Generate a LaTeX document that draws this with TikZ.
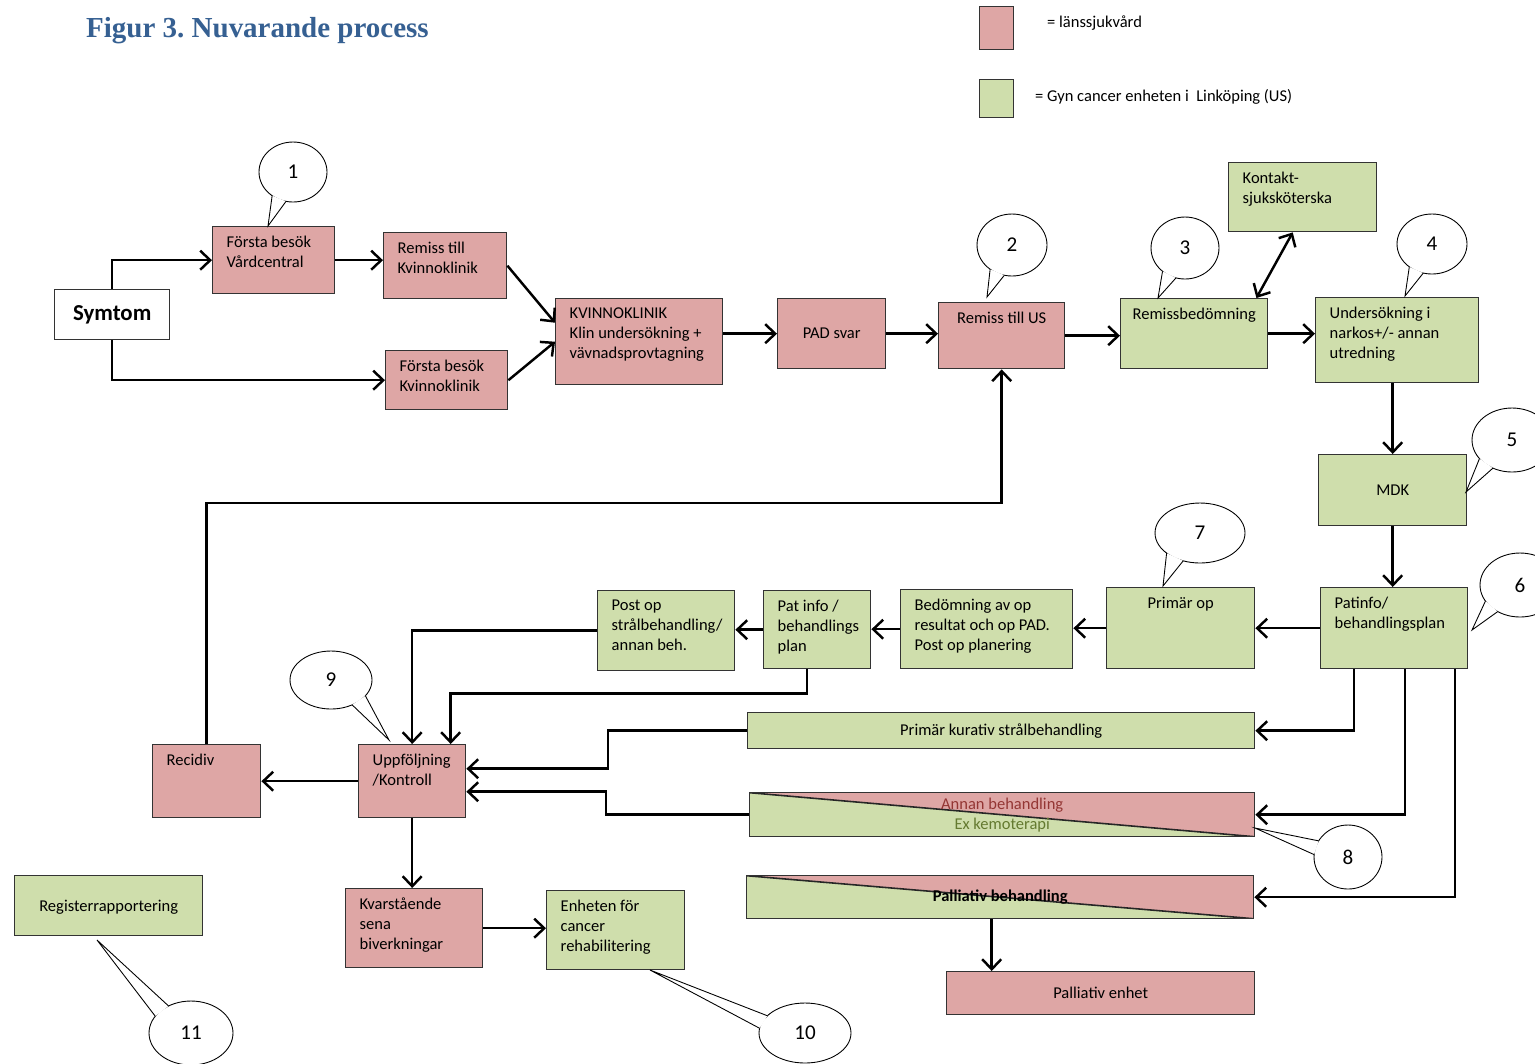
\documentclass[tikz,border=0pt]{standalone}
\usepackage{fontspec}
\setmainfont{Carlito}
\newfontfamily\titlefont{Liberation Serif}
\usepackage{xcolor}
\usetikzlibrary{arrows.meta,shapes.geometric,calc,positioning}

\definecolor{lans}{RGB}{222,166,165}
\definecolor{gyn}{RGB}{207,222,172}
\definecolor{titleblue}{RGB}{54,96,146}
\definecolor{annred}{RGB}{148,54,52}
\definecolor{anngreen}{RGB}{100,122,48}

\newlength{\pxu}\setlength{\pxu}{0.02cm}
\newcommand{\txtl}[3]{\parbox[t][\dimexpr#2\pxu-0.36cm\relax][t]{#1\pxu}{\raggedright\leftskip=14\pxu\relax #3}}
\newcommand{\txtc}[3]{\parbox[t][\dimexpr#2\pxu-0.36cm\relax][t]{#1\pxu}{\centering #3}}
\newcommand{\bubble}[6]{%
  \node[bubble, minimum width=2*#3, minimum height=2*#4] (#1) at #2 {#6};
  \path let \p1=($#5-(#1.center)$), \n1={atan2(\y1,\x1)}, \n2={\n1+13}, \n3={\n1-13} in
    coordinate (#1-l) at ($(#1.center)+(\n2:#3 and #4)$)
    coordinate (#1-r) at ($(#1.center)+(\n3:#3 and #4)$);
  \fill[white] (#1-l) -- #5 -- (#1-r) -- cycle;
  \draw[line width=0.5pt] (#1-l) -- #5 -- (#1-r);
}

\begin{document}
\begin{tikzpicture}[
    x = 0.02cm, y = -0.02cm,
    >={Straight Barb[length=2mm,width=3.8mm]},
    box/.style = {draw=black!80, line width=0.8pt, anchor=north west, inner xsep=0pt, inner ysep=0.18cm, font=\fontsize{9.4}{11.5}\selectfont},
    pinkbox/.style = {box, fill=lans},
    greenbox/.style = {box, fill=gyn},
    flat/.style 2 args = {minimum width=#1*0.02cm, minimum height=#2*0.02cm, inner sep=0pt, align=center},
    split/.style = {box, fill=gyn,
      path picture={
        \fill[lans] (path picture bounding box.north west) -- (path picture bounding box.north east) -- (path picture bounding box.south east) -- cycle;
        \draw[black!85, line width=0.9pt] (path picture bounding box.north west) -- (path picture bounding box.south east);
      }},
    flow/.style = {->, line width=1.4pt},
    bubble/.style = {ellipse, draw, fill=white, line width=0.5pt, inner sep=0pt, font=\fontsize{12}{12}\selectfont}]

	\useasboundingbox (0,0) rectangle (1535,1063);

	\node[anchor=west, text=titleblue, font=\titlefont\bfseries\fontsize{16.5}{18}\selectfont] (title) at (80,31) {Figur 3.\ Nuvarande process};

	\node[pinkbox, flat={34}{43}] (legl) at (979,6) {};
	\node[greenbox, flat={34}{38}] (legg) at (979,79) {};
	\node[anchor=west, font=\fontsize{9.4}{11}\selectfont] (legltxt) at (1041,23) {= länssjukvård};
	\node[anchor=west, font=\fontsize{9.4}{11}\selectfont] (leggtxt) at (1029,97) {= Gyn cancer enheten i\ \ Linköping (US)};

	\node[box, fill=white, flat={115}{50}, font=\bfseries\fontsize{13}{15}\selectfont] (sym) at (54,289) {Symtom};
	\node[pinkbox] (fbv) at (212,226) {\txtl{122}{67}{Första besök\\Vårdcentral}};
	\node[pinkbox] (rtk) at (383,232) {\txtl{123}{66}{Remiss till\\Kvinnoklinik}};
	\node[pinkbox] (fbk) at (385,350) {\txtl{122}{59}{Första besök\\Kvinnoklinik}};
	\node[pinkbox] (kk) at (555,298) {\txtl{167}{86}{KVINNOKLINIK\\Klin undersökning +\\vävnadsprovtagning}};
	\node[pinkbox, flat={108}{70}] (pad) at (777,298) {PAD svar};
	\node[pinkbox] (rus) at (938,302) {\txtc{126}{66}{Remiss till US}};
	\node[greenbox] (rbed) at (1120,298) {\txtc{147}{70}{Remissbedömning}};
	\node[greenbox] (kss) at (1228,162) {\txtl{148}{69}{Kontakt-\\sjuksköterska}};
	\node[greenbox] (und) at (1315,297) {\txtl{163}{85}{Undersökning i\\narkos+/- annan\\utredning}};
	\node[greenbox, flat={148}{71}] (mdk) at (1318,454) {MDK};
	\node[greenbox] (pbp) at (1320,587) {\txtl{147}{81}{Patinfo/\\behandlingsplan}};
	\node[greenbox] (pop) at (1106,587) {\txtc{148}{81}{Primär op}};
	\node[greenbox] (bop) at (900,589) {\txtl{172}{79}{Bedömning av op\\resultat och op PAD.\\Post op planering}};
	\node[greenbox] (pip) at (763,590) {\txtl{107}{78}{Pat info /\\behandlings\\plan}};
	\node[greenbox] (psb) at (597,590) {\txtl{137}{80}{Post op\\strålbehandling/\\annan beh.}};
	\node[greenbox, flat={507}{36}] (kur) at (747,712) {Primär kurativ strålbehandling};
	\node[split, flat={505}{44}] (ann) at (749,792) {\textcolor{annred}{Annan behandling}\\\textcolor{anngreen}{Ex kemoterapi}};
	\node[split, flat={507}{43}, font=\bfseries\fontsize{9.4}{11.5}\selectfont] (pal) at (746,875) {Palliativ behandling};
	\node[pinkbox, flat={308}{43}] (pen) at (946,971) {Palliativ enhet};
	\node[pinkbox] (rec) at (152,744) {\txtl{108}{73}{Recidiv}};
	\node[pinkbox] (upp) at (358,744) {\txtl{107}{73}{Uppföljning\\/Kontroll}};
	\node[pinkbox] (kvb) at (345,888) {\txtl{137}{79}{Kvarstående\\sena\\biverkningar}};
	\node[greenbox] (ecr) at (546,890) {\txtl{138}{79}{Enheten för\\cancer\\rehabilitering}};
	\node[greenbox, flat={188}{60}] (reg) at (14,875) {\raisebox{-0.12cm}[0pt][0pt]{Registerrapportering}};

	\draw[flow] (sym.north) |- (fbv.west);
	\draw[flow] (sym.south) |- (fbk.west);
	\draw[flow] (fbv.east) -- (fbv.east -| rtk.west);
	\draw[flow] (rtk.east) -- ([yshift=0.38cm]kk.west);
	\draw[flow] (fbk.east) -- (kk.west);
	\draw[flow] (pad.west -| kk.east) -- (pad.west);
	\draw[flow] (pad.east) -- (pad.east -| rus.west);
	\draw[flow] (rus.east) -- (rus.east -| rbed.west);
	\draw[flow] (rbed.east) -- (rbed.east -| und.west);
	\draw[flow, <->] ([xshift=-0.24cm]rbed.north east) -- ([xshift=-0.2cm]kss.south);
	\draw[flow] (mdk.north |- und.south) -- (mdk.north);
	\draw[flow] (mdk.south) -- (mdk.south |- pbp.north);
	\draw[flow] (pbp.west) -- (pbp.west -| pop.east);
	\draw[flow] (pop.west) -- (pop.west -| bop.east);
	\draw[flow] (bop.west) -- (bop.west -| pip.east);
	\draw[flow] (pip.west) -- (pip.west -| psb.east);
	\draw[flow] (psb.west) -| (upp.north);
	\draw[flow] ([xshift=-0.2cm]pip.south) -- ++(0,24) -| ([xshift=0.77cm]upp.north);
	\draw[flow] ([xshift=0.68cm]pbp.south west) |- (kur.east);
	\draw[flow] ([xshift=1.7cm]pbp.south west) |- (ann.east);
	\draw[flow] ([xshift=2.7cm]pbp.south west) |- (pal.east);
	\draw[flow] (kur.west) -- ++(-139,0) |- ([yshift=0.25cm]upp.east);
	\draw[flow] (ann.west) -- ++(-143,0) |- ([yshift=-0.21cm]upp.east);
	\draw[flow] ([xshift=-0.17cm]pal.south) -- ([xshift=-0.17cm]pal.south |- pen.north);
	\draw[flow] (upp.west) -- (upp.west -| rec.east);
	\draw[flow] (rec.north) -- ++(0,-241) -| (rus.south);
	\draw[flow] (upp.south) -- (upp.south |- kvb.north);
	\draw[flow] (kvb.east) -- (kvb.east -| ecr.west);

	\bubble{b1}{(293,172)}{0.68cm}{0.6cm}{(268,226)}{1}
	\bubble{b2}{(1012,245)}{0.7cm}{0.62cm}{(987,297)}{2}
	\bubble{b3}{(1185,248)}{0.68cm}{0.62cm}{(1158,298)}{3}
	\bubble{b4}{(1432,244)}{0.7cm}{0.6cm}{(1405,296)}{4}
	\bubble{b5}{(1512,440)}{0.8cm}{0.64cm}{(1466,492)}{5}
	\bubble{b6}{(1520,585)}{0.8cm}{0.64cm}{(1472,630)}{6}
	\bubble{b7}{(1200,533)}{0.9cm}{0.6cm}{(1163,586)}{7}
	\bubble{b8}{(1348,857)}{0.68cm}{0.64cm}{(1255,828)}{8}
	\bubble{b9}{(331,680)}{0.82cm}{0.58cm}{(389,740)}{9}
	\bubble{b10}{(805,1033)}{0.92cm}{0.6cm}{(650,970)}{10}
	\bubble{b11}{(191,1033)}{0.84cm}{0.64cm}{(97,940)}{11}

\end{tikzpicture}
\end{document}
